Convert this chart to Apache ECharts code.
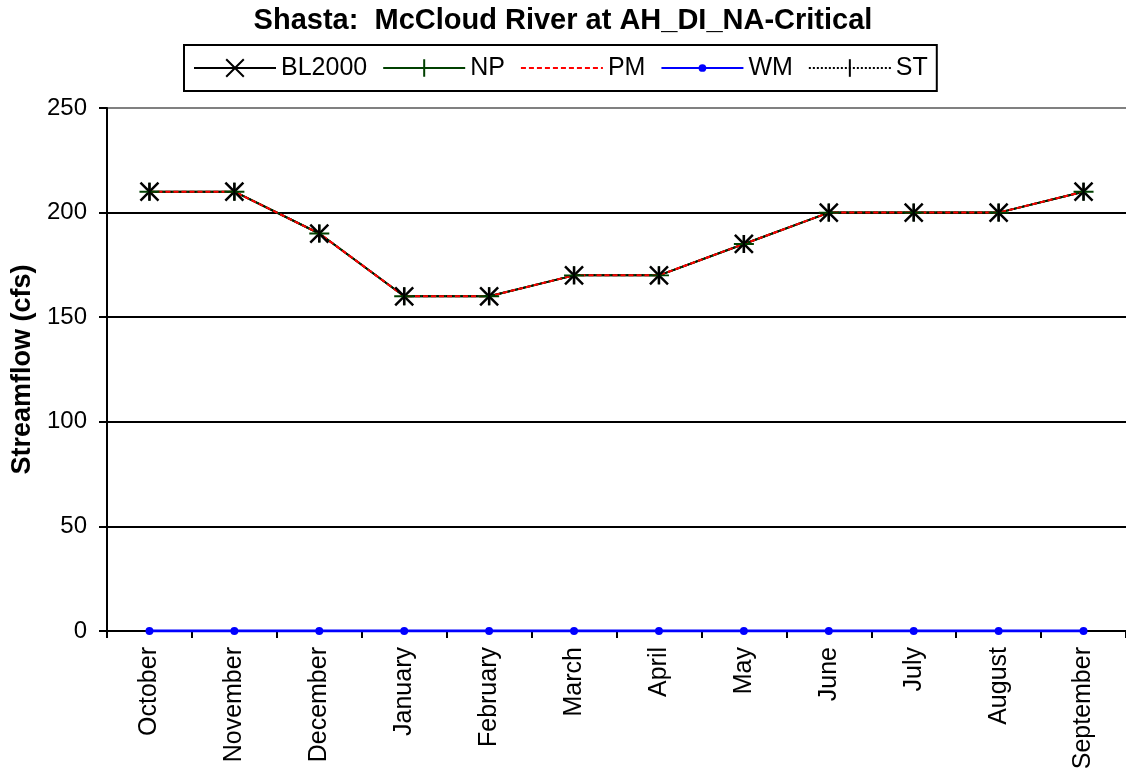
<!DOCTYPE html>
<html>
<head>
<meta charset="utf-8">
<script src="https://cdn.jsdelivr.net/npm/echarts@6/dist/echarts.min.js"></script>
<style>
    html, body { margin: 0; padding: 0; background: #fff; }
    #main { width: 1126px; height: 771px; }
</style>
</head>
<body>
<div id="main"></div>
<script>
// 月份
const months = ['October', 'November', 'December', 'January', 'February', 'March',
    'April', 'May', 'June', 'July', 'August', 'September'];
// 各情景流量 (cfs)
const bl2000 = [210, 210, 190, 160, 160, 170, 170, 185, 200, 200, 200, 210];
const np = [210, 210, 190, 160, 160, 170, 170, 185, 200, 200, 200, 210];
const pm = [210, 210, 190, 160, 160, 170, 170, 185, 200, 200, 200, 210];
const wm = [0, 0, 0, 0, 0, 0, 0, 0, 0, 0, 0, 0];
const st = [210, 210, 190, 160, 160, 170, 170, 185, 200, 200, 200, 210];
// y轴刻度
const yMin = 0, yMax = 250, yStep = 50;

const FONT = 'Liberation Sans, Arial, sans-serif';

// 符号形状
const xMark = 'path://M0,0L10,10M0,10L10,0';
const plusMark = 'path://M5,0L5,10M0,5L10,5';
const barMark = 'path://M0,0M10,0M5,0L5,10';
const dotMark = 'path://M0,0M10,10M5,2.8A2.2,2.2,0,1,1,5,7.2A2.2,2.2,0,1,1,5,2.8Z';
const noMark = 'path://M0,0M10,10';

var chart = echarts.init(document.getElementById('main'), null, { renderer: 'canvas' });

var option = {
    backgroundColor: '#fff',
    animation: false,
    title: {
        text: 'Shasta:  McCloud River at AH_DI_NA-Critical',
        left: 'center',
        top: 1,
        textStyle: { fontFamily: FONT, fontSize: 29, fontWeight: 'bold', color: '#000' }
    },
    legend: {
        data: ['BL2000', 'NP', 'PM', 'WM', 'ST'],
        left: 184,
        top: 45,
        padding: [10, 9],
        itemWidth: 82,
        itemHeight: 22,
        itemGap: 15,
        borderColor: '#000',
        borderWidth: 2,
        textStyle: { fontFamily: FONT, fontSize: 25, color: '#000', lineHeight: 26 }
    },
    grid: { left: 107, right: 0, top: 108, bottom: 140, outerBoundsMode: 'none', containLabel: false },
    xAxis: {
        type: 'category',
        data: months,
        boundaryGap: true,
        axisLine: { lineStyle: { color: '#000', width: 2 } },
        axisTick: { show: true, length: 7, lineStyle: { color: '#000', width: 2 } },
        axisLabel: { rotate: 90, margin: 16, fontFamily: FONT, fontSize: 25, color: '#000' }
    },
    yAxis: {
        type: 'value',
        min: yMin,
        max: yMax,
        interval: yStep,
        name: 'Streamflow (cfs)',
        nameLocation: 'middle',
        nameGap: 65,
        nameRotate: 90,
        nameTextStyle: { fontFamily: FONT, fontSize: 27, fontWeight: 'bold', color: '#000' },
        axisLine: { show: true, lineStyle: { color: '#000', width: 2 } },
        axisTick: { show: true, length: 8, lineStyle: { color: '#000', width: 2 } },
        axisLabel: { margin: 20, fontFamily: FONT, fontSize: 24, color: '#000' },
        splitLine: {
            show: true,
            lineStyle: { color: ['#000', '#000', '#000', '#000', '#000', '#808080'], width: 2 }
        }
    },
    series: [
        {
            name: 'BL2000',
            type: 'line',
            data: bl2000,
            symbol: xMark,
            symbolSize: 18,
            lineStyle: { color: '#000', width: 2 },
            itemStyle: { color: '#000', borderColor: '#000', borderWidth: 2.5 }
        },
        {
            name: 'NP',
            type: 'line',
            data: np,
            symbol: plusMark,
            symbolSize: [20, 18],
            lineStyle: { color: '#004000', width: 2 },
            itemStyle: { color: '#004000', borderColor: '#004000', borderWidth: 2 }
        },
        {
            name: 'ST',
            type: 'line',
            data: st,
            symbol: barMark,
            symbolSize: 18,
            lineStyle: { color: '#000', width: 1.5, type: 'dotted' },
            itemStyle: { color: '#000', borderColor: '#000', borderWidth: 2.5 }
        },
        {
            name: 'PM',
            type: 'line',
            data: pm,
            symbol: noMark,
            symbolSize: 10,
            lineStyle: { color: '#ff0000', width: 2, type: [5, 3] },
            itemStyle: { color: '#ff0000', borderColor: '#ff0000', borderWidth: 0 }
        },
        {
            name: 'WM',
            type: 'line',
            data: wm,
            symbol: dotMark,
            symbolSize: 18,
            lineStyle: { color: '#0000ff', width: 3 },
            itemStyle: { color: '#0000ff', borderColor: '#0000ff', borderWidth: 0 }
        }
    ]
};

chart.setOption(option);
</script>
</body>
</html>
